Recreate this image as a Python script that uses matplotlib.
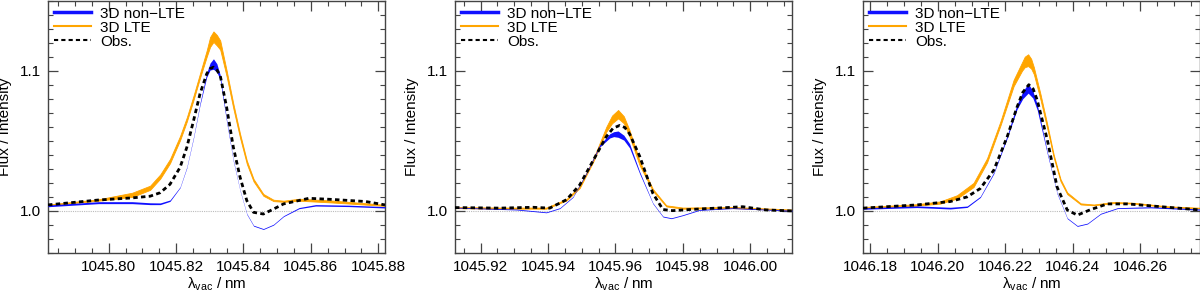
import matplotlib
matplotlib.use("Agg")
import matplotlib.pyplot as plt
from matplotlib.ticker import MultipleLocator, FormatStrFormatter
from matplotlib.lines import Line2D

plt.rcParams['font.family'] = ['Liberation Sans', 'DejaVu Sans']
plt.rcParams['mathtext.default'] = 'regular'
plt.rcParams['font.size'] = 11

# ---------------- Panel 1 ----------------
p1_xlim = (1045.782, 1045.882)
p1_lte_x = [1045.7820, 1045.7970, 1045.8070, 1045.8123, 1045.8153, 1045.8182, 1045.8212, 1045.8232,
            1045.8252, 1045.8271, 1045.8291, 1045.8301, 1045.8311, 1045.8321, 1045.8331, 1045.8350,
            1045.8370, 1045.8390, 1045.8410, 1045.8430, 1045.8459, 1045.8489, 1045.8519, 1045.8565,
            1045.8664, 1045.8820]
p1_lte_lo = [1.0040, 1.0073, 1.0100, 1.0150, 1.0230, 1.0340, 1.0505, 1.0638, 1.0793, 1.0948, 1.1100,
             1.1170, 1.1205, 1.1180, 1.1150, 1.0960, 1.0730, 1.0520, 1.0335, 1.0210, 1.0108, 1.0070,
             1.0065, 1.0073, 1.0060, 1.0036]
p1_lte_hi = [1.0046, 1.0083, 1.0130, 1.0180, 1.0260, 1.0370, 1.0535, 1.0668, 1.0823, 1.0980, 1.1145,
             1.1240, 1.1280, 1.1255, 1.1216, 1.1002, 1.0764, 1.0549, 1.0359, 1.0228, 1.0121, 1.0080,
             1.0073, 1.0087, 1.0074, 1.0044]
p1_nlte_x = [1045.7820, 1045.7970, 1045.8070, 1045.8123, 1045.8153, 1045.8182, 1045.8212, 1045.8232,
             1045.8252, 1045.8271, 1045.8291, 1045.8301, 1045.8311, 1045.8321, 1045.8331, 1045.8350,
             1045.8370, 1045.8390, 1045.8410, 1045.8430, 1045.8459, 1045.8489, 1045.8519, 1045.8565,
             1045.8614, 1045.8713, 1045.8820]
p1_nlte_lo = [1.0030, 1.0052, 1.0052, 1.0045, 1.0045, 1.0068, 1.0166, 1.0307, 1.0520, 1.0755, 1.0955,
              1.1005, 1.1010, 1.0990, 1.0935, 1.0635, 1.0353, 1.0142, 0.9975, 0.9892, 0.9868, 0.9899,
              0.9960, 1.0016, 1.0035, 1.0031, 1.0021]
p1_nlte_hi = [1.0042, 1.0066, 1.0066, 1.0058, 1.0057, 1.0078, 1.0172, 1.0315, 1.0530, 1.0770, 1.0985,
              1.1055, 1.1085, 1.1050, 1.0970, 1.0652, 1.0363, 1.0148, 0.9981, 0.9898, 0.9874, 0.9905,
              0.9966, 1.0024, 1.0045, 1.0041, 1.0031]
p1_obs_x = [1045.7820, 1045.7970, 1045.8070, 1045.8123, 1045.8153, 1045.8182, 1045.8212, 1045.8232,
            1045.8252, 1045.8271, 1045.8291, 1045.8301, 1045.8311, 1045.8321, 1045.8331, 1045.8350,
            1045.8370, 1045.8390, 1045.8410, 1045.8430, 1045.8459, 1045.8489, 1045.8519, 1045.8594,
            1045.8664, 1045.8763, 1045.8820]
p1_obs_y = [1.0043, 1.0078, 1.0093, 1.0105, 1.0130, 1.0190, 1.0311, 1.0454, 1.0645, 1.0835, 1.0978,
            1.1015, 1.1025, 1.1005, 1.0966, 1.0740, 1.0454, 1.0240, 1.0073, 0.9990, 0.9978, 1.0013,
            1.0050, 1.0090, 1.0082, 1.0067, 1.0043]

# ---------------- Panel 2 ----------------
p2_xlim = (1045.9124, 1046.0124)
p2_lte_x = [1045.9124, 1045.9257, 1045.9395, 1045.9455, 1045.9494, 1045.9534, 1045.9573, 1045.9590,
            1045.9608, 1045.9625, 1045.9642, 1045.9672, 1045.9711, 1045.9751, 1045.9800, 1045.9948,
            1046.0124]
p2_lte_lo = [1.0020, 1.0016, 1.0016, 1.0075, 1.0163, 1.0350, 1.0565, 1.0625, 1.0660, 1.0625, 1.0530,
             1.0325, 1.0143, 1.0032, 1.0016, 1.0020, 1.0004]
p2_lte_hi = [1.0028, 1.0024, 1.0024, 1.0085, 1.0177, 1.0370, 1.0600, 1.0680, 1.0720, 1.0675, 1.0575,
             1.0355, 1.0157, 1.0040, 1.0024, 1.0028, 1.0010]
p2_nlte_x = [1045.9124, 1045.9307, 1045.9395, 1045.9435, 1045.9474, 1045.9514, 1045.9553, 1045.9583,
             1045.9595, 1045.9608, 1045.9625, 1045.9642, 1045.9672, 1045.9711, 1045.9741, 1045.9766,
             1045.9800, 1045.9849, 1045.9948, 1046.0124]
p2_nlte_lo = [1.0021, 1.0007, 0.9987, 1.0017, 1.0097, 1.0265, 1.0455, 1.0520, 1.0530, 1.0525, 1.0505,
              1.0450, 1.0265, 1.0052, 0.9957, 0.9945, 0.9967, 1.0004, 1.0017, 0.9999]
p2_nlte_hi = [1.0027, 1.0013, 0.9993, 1.0023, 1.0103, 1.0275, 1.0470, 1.0550, 1.0565, 1.0570, 1.0540,
              1.0480, 1.0280, 1.0058, 0.9963, 0.9951, 0.9973, 1.0010, 1.0023, 1.0005]
p2_obs_x = [1045.9124, 1045.9257, 1045.9356, 1045.9405, 1045.9455, 1045.9494, 1045.9534, 1045.9573,
            1045.9593, 1045.9613, 1045.9628, 1045.9642, 1045.9672, 1045.9711, 1045.9741, 1045.9770,
            1045.9820, 1045.9899, 1045.9978, 1046.0047, 1046.0124]
p2_obs_y = [1.0024, 1.0020, 1.0026, 1.0020, 1.0080, 1.0185, 1.0360, 1.0530, 1.0590, 1.0610, 1.0595,
            1.0550, 1.0390, 1.0126, 1.0010, 1.0002, 1.0010, 1.0020, 1.0030, 1.0007, 1.0000]

# ---------------- Panel 3 ----------------
p3_xlim = (1046.1778, 1046.2778)
p3_lte_x = [1046.1778, 1046.1938, 1046.2007, 1046.2057, 1046.2106, 1046.2146, 1046.2186, 1046.2225,
            1046.2250, 1046.2258, 1046.2268, 1046.2277, 1046.2285, 1046.2305, 1046.2325, 1046.2344,
            1046.2364, 1046.2384, 1046.2424, 1046.2463, 1046.2523, 1046.2582, 1046.2682, 1046.2778]
p3_lte_lo = [1.0020, 1.0038, 1.0052, 1.0088, 1.0170, 1.0345, 1.0610, 1.0890, 1.1000, 1.1025, 1.1033,
             1.1015, 1.0975, 1.0790, 1.0585, 1.0380, 1.0212, 1.0120, 1.0046, 1.0040, 1.0056, 1.0052,
             1.0027, 1.0017]
p3_lte_hi = [1.0028, 1.0048, 1.0068, 1.0112, 1.0200, 1.0375, 1.0640, 1.0935, 1.1060, 1.1100, 1.1117,
             1.1085, 1.1025, 1.0830, 1.0615, 1.0400, 1.0228, 1.0132, 1.0054, 1.0046, 1.0064, 1.0058,
             1.0033, 1.0023]
p3_nlte_x = [1046.1778, 1046.1938, 1046.2037, 1046.2087, 1046.2126, 1046.2166, 1046.2206, 1046.2235,
             1046.2252, 1046.2268, 1046.2282, 1046.2295, 1046.2325, 1046.2354, 1046.2384, 1046.2414,
             1046.2444, 1046.2483, 1046.2533, 1046.2632, 1046.2778]
p3_nlte_lo = [1.0012, 1.0024, 1.0014, 1.0025, 1.0096, 1.0265, 1.0520, 1.0725, 1.0800, 1.0840, 1.0805,
              1.0720, 1.0405, 1.0122, 0.9945, 0.9890, 0.9907, 0.9977, 1.0017, 1.0022, 1.0006]
p3_nlte_hi = [1.0022, 1.0036, 1.0026, 1.0035, 1.0104, 1.0275, 1.0540, 1.0760, 1.0850, 1.0910, 1.0855,
              1.0760, 1.0420, 1.0130, 0.9951, 0.9896, 0.9913, 0.9983, 1.0023, 1.0030, 1.0014]
p3_obs_x = [1046.1778, 1046.1938, 1046.2037, 1046.2087, 1046.2126, 1046.2166, 1046.2206, 1046.2235,
            1046.2252, 1046.2270, 1046.2283, 1046.2295, 1046.2325, 1046.2354, 1046.2384, 1046.2414,
            1046.2454, 1046.2503, 1046.2563, 1046.2662, 1046.2778]
p3_obs_y = [1.0020, 1.0043, 1.0067, 1.0100, 1.0160, 1.0290, 1.0530, 1.0740, 1.0845, 1.0900, 1.0870,
            1.0790, 1.0506, 1.0170, 1.0007, 0.9970, 1.0010, 1.0050, 1.0050, 1.0030, 1.0007]

panels = [
    dict(xlim=p1_xlim, lte=(p1_lte_x, p1_lte_lo, p1_lte_hi), nlte=(p1_nlte_x, p1_nlte_lo, p1_nlte_hi),
         obs=(p1_obs_x, p1_obs_y)),
    dict(xlim=p2_xlim, lte=(p2_lte_x, p2_lte_lo, p2_lte_hi), nlte=(p2_nlte_x, p2_nlte_lo, p2_nlte_hi),
         obs=(p2_obs_x, p2_obs_y)),
    dict(xlim=p3_xlim, lte=(p3_lte_x, p3_lte_lo, p3_lte_hi), nlte=(p3_nlte_x, p3_nlte_lo, p3_nlte_hi),
         obs=(p3_obs_x, p3_obs_y)),
]

labels = ["3D non\u2212LTE", "3D LTE", "Obs."]
ylim = (0.97, 1.15)

BLUE = '#1010ff'
ORANGE = '#ffa500'
SPINE = '#444444'

fig = plt.figure(figsize=(12.0, 2.93), dpi=100)
lefts = [48 / 1200, 455 / 1200, 863 / 1200]
width = 337 / 1200
bottom = 1 - 253 / 293
height = 253 / 293 - 0.002

for left, p in zip(lefts, panels):
    ax = fig.add_axes([left, bottom, width, height])
    ax.axhline(1.0, color='#bbbbbb', lw=0.8, ls=(0, (1, 1)), zorder=1)
    lx, llo, lhi = p['lte']
    ax.fill_between(lx, llo, lhi, color=ORANGE, lw=0.6, edgecolor=ORANGE, zorder=2)
    nx, nlo, nhi = p['nlte']
    ax.fill_between(nx, nlo, nhi, color=BLUE, lw=0, zorder=3)
    ox, oy = p['obs']
    ax.plot(ox, oy, color='black', lw=2.0, ls=(0, (1.6, 1.2)), zorder=4)
    ax.set_xlim(*p['xlim'])
    ax.set_ylim(*ylim)
    ax.xaxis.set_major_locator(MultipleLocator(0.02))
    ax.xaxis.set_minor_locator(MultipleLocator(0.005))
    ax.xaxis.set_major_formatter(FormatStrFormatter('%.2f'))
    ax.yaxis.set_major_locator(MultipleLocator(0.1))
    ax.yaxis.set_minor_locator(MultipleLocator(0.01))
    ax.yaxis.set_major_formatter(FormatStrFormatter('%.1f'))
    ax.tick_params(which='both', direction='in', top=True, right=True, color=SPINE, labelsize=11,
                   pad=5)
    ax.tick_params(which='major', length=7, width=0.9)
    ax.tick_params(which='minor', length=3.5, width=0.8)
    for s in ax.spines.values():
        s.set_color(SPINE)
        s.set_linewidth(1.0)
    ax.set_xlabel("\u03bb$_{vac}$ / nm", fontsize=11, labelpad=1)
    ax.set_ylabel("Flux / Intensity", fontsize=11, labelpad=6)
    handles = [Line2D([], [], color=BLUE, lw=2.5),
               Line2D([], [], color=ORANGE, lw=1.5),
               Line2D([], [], color='black', lw=1.5, ls=(0, (2, 1.5)))]
    ax.legend(handles, labels, loc='upper left', frameon=False, fontsize=11, handlelength=2.4,
              handletextpad=0.6, labelspacing=0.0, borderaxespad=0.2, borderpad=0.2)

fig.savefig("out.png", dpi=100)
